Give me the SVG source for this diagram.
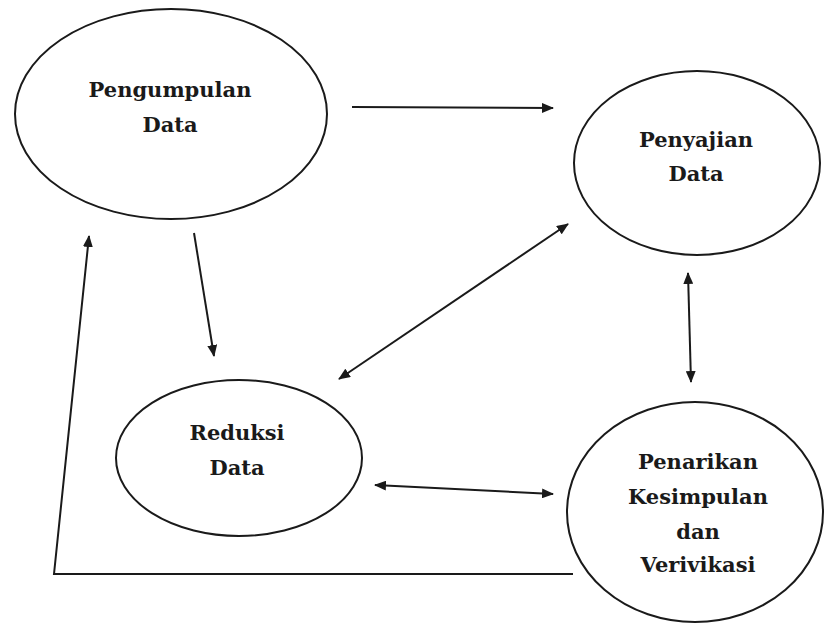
<svg xmlns="http://www.w3.org/2000/svg" width="826" height="624" viewBox="0 0 826 624">
<style>
.node{fill:#fff;stroke:#1a1a1a;stroke-width:2}
.lbl{font-family:"DejaVu Serif","Liberation Serif",serif;font-weight:bold;font-size:21px;fill:#1a1a1a;text-anchor:middle}
.edge{stroke:#1a1a1a;stroke-width:2;fill:none}
</style>
<defs>
<marker id="ah" viewBox="0 0 12 10" refX="11" refY="5" markerWidth="12" markerHeight="10" markerUnits="userSpaceOnUse" orient="auto-start-reverse">
<path d="M0,0 L12,5 L0,10 Z" fill="#1a1a1a"/>
</marker>
</defs>
<rect width="826" height="624" fill="#fff"/>
<g id="pengumpulan">
<ellipse class="node" cx="171" cy="114" rx="156" ry="105"/>
<text class="lbl" x="170" y="97">Pengumpulan</text>
<text class="lbl" x="170" y="132">Data</text>
</g>
<g id="penyajian">
<ellipse class="node" cx="697" cy="163" rx="123" ry="92"/>
<text class="lbl" x="696" y="147">Penyajian</text>
<text class="lbl" x="696" y="181">Data</text>
</g>
<g id="reduksi">
<ellipse class="node" cx="239" cy="458" rx="123" ry="78"/>
<text class="lbl" x="237" y="440">Reduksi</text>
<text class="lbl" x="237" y="475">Data</text>
</g>
<g id="penarikan">
<ellipse class="node" cx="695" cy="512" rx="128" ry="110"/>
<text class="lbl" x="698" y="469">Penarikan</text>
<text class="lbl" x="698" y="504">Kesimpulan</text>
<text class="lbl" x="698" y="539">dan</text>
<text class="lbl" x="698" y="572">Verivikasi</text>
</g>
<g id="connectors">
<line class="edge" x1="352" y1="107" x2="553" y2="108" marker-end="url(#ah)"/>
<line class="edge" x1="194" y1="233" x2="214" y2="356" marker-end="url(#ah)"/>
<line class="edge" x1="339" y1="379" x2="568" y2="224" marker-start="url(#ah)" marker-end="url(#ah)"/>
<line class="edge" x1="688" y1="273" x2="691" y2="382" marker-start="url(#ah)" marker-end="url(#ah)"/>
<line class="edge" x1="375" y1="485" x2="553" y2="494" marker-start="url(#ah)" marker-end="url(#ah)"/>
<polyline class="edge" points="573,574 54,574 89,236" marker-end="url(#ah)"/>
</g>
</svg>
